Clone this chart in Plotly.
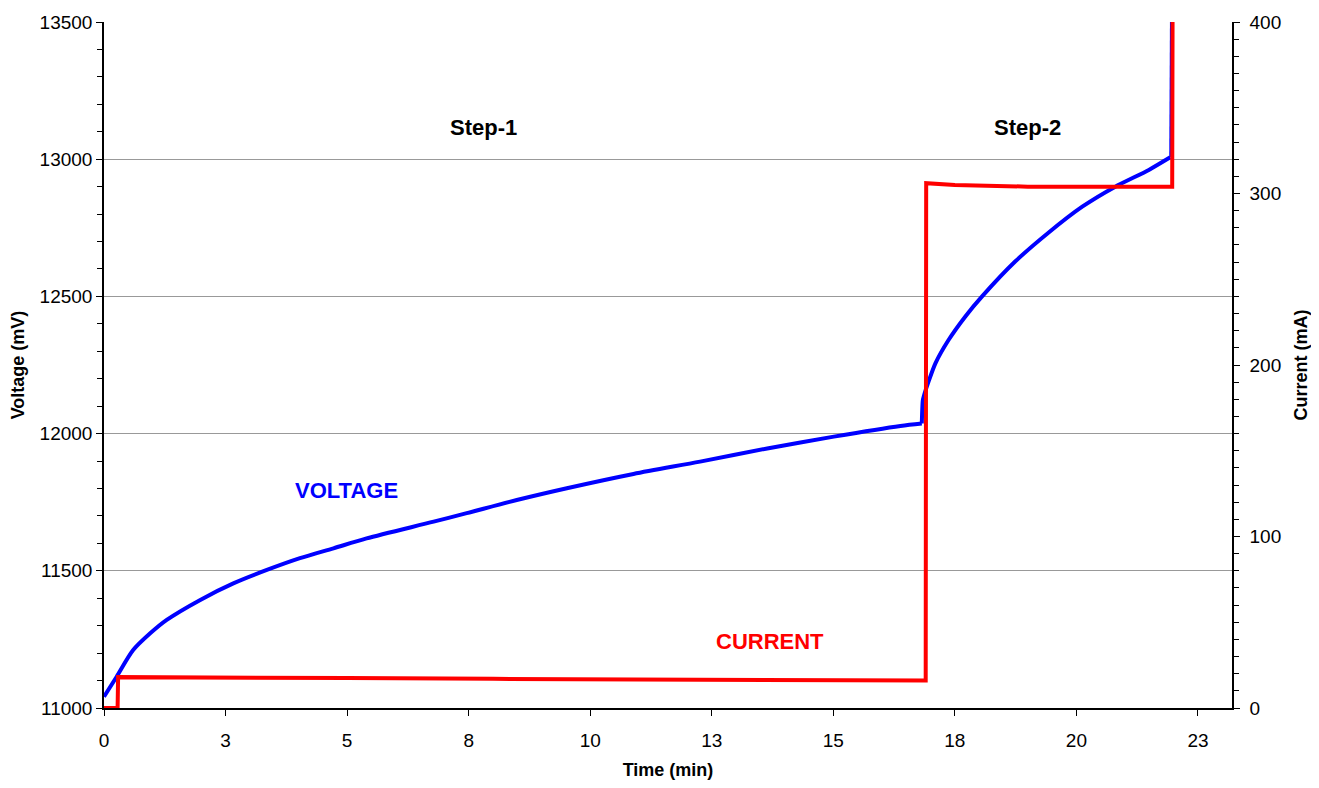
import plotly.graph_objects as go

# ---- data ----
time_v1 = [0, 0.26, 0.60, 0.95, 1.29, 1.98, 2.66, 3.35, 4.03, 4.72, 5.40, 6.78, 7.46,
           8.49, 9.52, 10.89, 12.26, 13.64, 15.01, 16.38, 16.82]
voltage1 = [11041, 11114, 11211, 11272, 11321, 11394, 11454, 11503, 11546, 11582, 11618,
            11679, 11710, 11758, 11801, 11853, 11898, 11946, 11989, 12028, 12037]
time_v2 = [16.82, 16.84, 16.86, 16.96, 17.10, 17.37, 17.72, 18.06, 18.74, 19.43, 20.12,
           20.80, 21.49, 21.93]
voltage2 = [12037, 12120, 12135, 12190, 12256, 12341, 12428, 12500, 12627, 12733, 12827,
            12900, 12961, 13007]
time_v3 = [21.93, 21.95]
voltage3 = [13007, 13700]

time_i = [0, 0.28, 0.29, 2.0, 5.0, 8.0, 11.0, 14.0, 16.90, 16.91, 17.5, 19.0, 21.0, 21.97, 21.98]
current = [0, 0, 18, 18, 17.5, 17, 16.5, 16, 16, 306, 305, 304, 304, 304, 430]

x_tickvals = [0, 2.5, 5, 7.5, 10, 12.5, 15, 17.5, 20, 22.5]
x_ticktext = ["0", "3", "5", "8", "10", "13", "15", "18", "20", "23"]

labels = [
    ("Step-1", 7.8, 13117, "black"),
    ("Step-2", 19.0, 13117, "black"),
    ("VOLTAGE", 4.98, 11791, "#0000FF"),
    ("CURRENT", 13.7, 11244, "#FF0000"),
]

FONT = "Liberation Sans, Arial, sans-serif"

fig = go.Figure()
fig.add_trace(go.Scatter(x=time_i, y=current, yaxis="y2", mode="lines",
                         line=dict(color="#FF0000", width=4), name="Current",
                         showlegend=False))
fig.add_trace(go.Scatter(x=time_v1, y=voltage1, mode="lines",
                         line=dict(color="#0000FF", width=4, shape="spline", smoothing=0.8),
                         name="Voltage", showlegend=False))
fig.add_trace(go.Scatter(x=time_v2, y=voltage2, mode="lines",
                         line=dict(color="#0000FF", width=4, shape="spline", smoothing=0.6),
                         name="Voltage", showlegend=False))
fig.add_trace(go.Scatter(x=time_v3, y=voltage3, mode="lines",
                         line=dict(color="#0000FF", width=2),
                         name="Voltage", showlegend=False))

for txt, x, y, c in labels:
    fig.add_annotation(x=x, y=y, xref="x", yref="y", text=f"<b>{txt}</b>",
                       showarrow=False, font=dict(family=FONT, size=22, color=c))

# page body has an 8px margin, so the figure is sized/offset to land the plot area
fig.update_layout(
    width=1303, height=772,
    margin=dict(l=96, r=79, t=14, b=72),
    paper_bgcolor="white", plot_bgcolor="white",
    xaxis=dict(range=[0, 23.2], tickvals=x_tickvals, ticktext=x_ticktext, automargin=False,
               showgrid=False, zeroline=False, showline=True, linecolor="black",
               linewidth=1.5, ticks="outside", ticklen=6, tickcolor="black",
               ticklabelstandoff=8,
               tickfont=dict(family=FONT, size=19, color="black"),
               title=dict(text="<b>Time (min)</b>", standoff=27,
                          font=dict(family=FONT, size=18, color="black"))),
    yaxis=dict(range=[11000, 13500], dtick=500, tick0=11000, tickformat="d", automargin=False,
               showgrid=True, gridcolor="#999999", gridwidth=1, zeroline=False,
               showline=True, linecolor="black", linewidth=1.5,
               ticks="outside", ticklen=6, tickcolor="black",
               minor=dict(dtick=100, ticks="outside", ticklen=5, tickcolor="black", showgrid=False),
               tickfont=dict(family=FONT, size=19, color="black"),
               title=dict(text="<b>Voltage (mV)</b>", standoff=14,
                          font=dict(family=FONT, size=18, color="black"))),
    yaxis2=dict(range=[0, 400], dtick=100, tick0=0, overlaying="y", side="right", automargin=False,
                showgrid=False, zeroline=False, showline=True, linecolor="black",
                linewidth=1.5, ticks="outside", ticklen=6, tickcolor="black",
                ticklabelstandoff=6,
                minor=dict(dtick=10, ticks="outside", ticklen=5, tickcolor="black", showgrid=False),
                tickfont=dict(family=FONT, size=19, color="black"),
                title=dict(text="<b>Current (mA)</b>", standoff=16,
                           font=dict(family=FONT, size=18, color="black"))),
)

fig.write_html("out.html")
